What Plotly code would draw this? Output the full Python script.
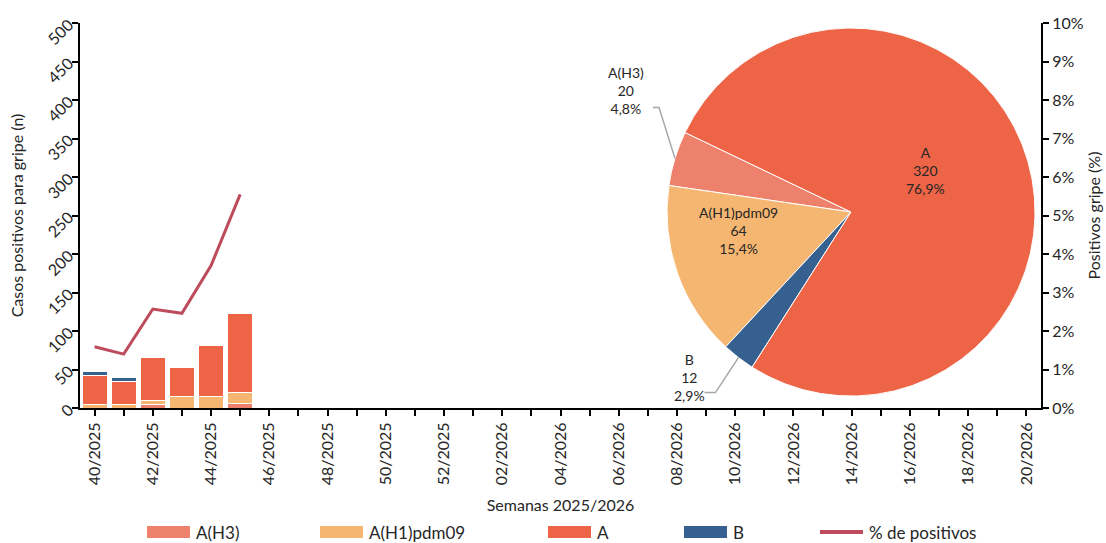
import math
import plotly.graph_objects as go

# semanas epidemiológicas 40/2025 - 20/2026
semanas = ["40/2025", "41/2025", "42/2025", "43/2025", "44/2025", "45/2025",
           "46/2025", "47/2025", "48/2025", "49/2025", "50/2025", "51/2025",
           "52/2025", "01/2026", "02/2026", "03/2026", "04/2026", "05/2026",
           "06/2026", "07/2026", "08/2026", "09/2026", "10/2026", "11/2026",
           "12/2026", "13/2026", "14/2026", "15/2026", "16/2026", "17/2026",
           "18/2026", "19/2026", "20/2026"]

semanas_datos = ["40/2025", "41/2025", "42/2025", "43/2025", "44/2025", "45/2025"]
a_h3 = [0, 0, 5, 0, 0, 6]
a_h1 = [5, 5, 5, 15, 15, 14]
a_ns = [37, 29, 55, 38, 66, 103]
b = [5, 6, 0, 1, 1, 0]
pct_pos = [1.59, 1.40, 2.57, 2.46, 3.70, 5.55]

# acumulado de la temporada (tarta)
pie_labels = ["A(H3)", "A(H1)pdm09", "B", "A"]
pie_values = [20, 64, 12, 320]

C_H3 = "#ED816C"
C_H1 = "#F5B671"
C_A = "#EE6446"
C_B = "#36608F"
C_LINE = "#BE4B5C"
FONT = "Lato"
TXT = "#262626"

W, H = 1106, 543
ML, MR, MT, MB = 80, 65, 23, 135
PW, PH = W - ML - MR, H - MT - MB

series = [("A(H3)", a_h3, C_H3), ("A(H1)pdm09", a_h1, C_H1),
          ("A", a_ns, C_A), ("B", b, C_B)]

fig = go.Figure()
for name, vals, col in series:
    fig.add_trace(go.Bar(x=semanas_datos, y=vals, name=name, showlegend=False,
                         marker=dict(color=col, line=dict(color="white", width=1))))

fig.add_trace(go.Scatter(x=semanas_datos, y=pct_pos, name="% de positivos",
                         mode="lines", yaxis="y2", showlegend=False,
                         line=dict(color=C_LINE, width=3)))

# tarta
pie_dom_x = [0.6108, 0.9938]
pie_dom_y = [0.031, 0.987]
start_deg = 154.4  # ángulo matemático donde empieza A(H3)
total = sum(pie_values)
# plotly (sentido antihorario) coloca el final del primer sector en "rotation"
rot = 90 - (start_deg + pie_values[0] / total * 360)
fig.add_trace(go.Pie(labels=pie_labels, values=pie_values, sort=False,
                     direction="counterclockwise", rotation=rot,
                     marker=dict(colors=[C_H3, C_H1, C_B, C_A],
                                 line=dict(color="white", width=1)),
                     textinfo="none",
                     domain=dict(x=pie_dom_x, y=pie_dom_y),
                     showlegend=False, hoverinfo="label+value+percent"))

cx = (pie_dom_x[0] + pie_dom_x[1]) / 2
cy = (pie_dom_y[0] + pie_dom_y[1]) / 2
r_px = min((pie_dom_x[1] - pie_dom_x[0]) * PW, (pie_dom_y[1] - pie_dom_y[0]) * PH) / 2


def to_paper(px, py):
    # px, py: píxeles relativos al centro de la tarta (y hacia abajo)
    return cx + px / PW, cy - py / PH


# etiquetas: las de dentro en posición fija respecto al centro,
# las de fuera con línea guía desde el borde del sector
inside_pos = {"A(H1)pdm09": (-113, 18), "A": (74, -42)}
outside_off = {"A(H3)": (-16, -51, -6, -33, -17), "B": (-23, 35, -11, -26, -15)}
cum = 0
shapes = []
annotations = []
for lab, v in zip(pie_labels, pie_values):
    mid = math.radians(start_deg + (cum + v / 2) / total * 360)
    cum += v
    pct = f"{v / total * 100:.1f}".replace(".", ",")
    txt = f"{lab}<br>{v}<br>{pct}%"
    if lab in inside_pos:
        x, y = to_paper(*inside_pos[lab])
    else:
        ex, ey = r_px * math.cos(mid), -r_px * math.sin(mid)
        dx, dy, hx, tx, ty = outside_off[lab]
        pts = [to_paper(ex, ey), to_paper(ex + dx, ey + dy), to_paper(ex + dx + hx, ey + dy)]
        path = "M" + " L".join(f"{px},{py}" for px, py in pts)
        shapes.append(dict(type="path", path=path, xref="paper", yref="paper",
                           line=dict(color="#A6A6A6", width=1.5)))
        x, y = to_paper(ex + dx + tx, ey + dy + ty)
    annotations.append(dict(text=txt, xref="paper", yref="paper", x=x, y=y,
                            showarrow=False, xanchor="center", yanchor="middle",
                            font=dict(size=14, color=TXT, family=FONT)))

# leyenda dibujada a mano (muestras rectangulares anchas)
leg_items = [(n, c, "bar") for n, _, c in series] + [("% de positivos", C_LINE, "line")]
leg_x = [147, 320, 548, 684, 820]
leg_y = 532
for (name, col, kind), lx in zip(leg_items, leg_x):
    x0, x1 = (lx - ML) / PW, (lx + 43 - ML) / PW
    if kind == "bar":
        y0, y1 = (H - MB - leg_y - 6) / PH, (H - MB - leg_y + 6) / PH
        shapes.append(dict(type="rect", xref="paper", yref="paper", x0=x0, x1=x1,
                           y0=y0, y1=y1, fillcolor=col, line=dict(width=0)))
    else:
        yy = (H - MB - leg_y) / PH
        shapes.append(dict(type="line", xref="paper", yref="paper", x0=x0, x1=x1,
                           y0=yy, y1=yy, line=dict(color=col, width=4)))
    annotations.append(dict(text=name, xref="paper", yref="paper",
                            x=(lx + 47 - ML) / PW, y=(H - MB - leg_y) / PH,
                            xanchor="left", yanchor="middle", showarrow=False,
                            font=dict(size=17, color=TXT, family=FONT)))

ticktext = [s if i % 2 == 0 else "" for i, s in enumerate(semanas)]

fig.update_layout(
    width=W, height=H,
    margin=dict(l=ML, r=MR, t=MT, b=MB),
    plot_bgcolor="white", paper_bgcolor="white",
    font=dict(family=FONT, size=16, color=TXT),
    separators=", ",
    barmode="stack", bargap=0.14,
    shapes=shapes, annotations=annotations,
    showlegend=False,
    xaxis=dict(type="category", categoryorder="array", categoryarray=semanas,
               range=[-0.5, len(semanas) - 0.5], automargin=False,
               tickmode="array", tickvals=semanas, ticktext=ticktext,
               tickangle=-90, ticks="outside", ticklen=6, tickwidth=1.5,
               tickcolor="black", showline=True, linecolor="black", linewidth=2,
               showgrid=False, tickfont=dict(size=16),
               title=dict(text="Semanas 2025/2026", standoff=15, font=dict(size=16))),
    yaxis=dict(range=[0, 500], dtick=50, tickangle=-45, ticks="outside",
               ticklen=6, tickwidth=1.5, tickcolor="black", showline=True,
               linecolor="black", linewidth=2, showgrid=False, zeroline=False,
               tickfont=dict(size=16), automargin=False,
               title=dict(text="Casos positivos para gripe (n)", standoff=16,
                          font=dict(size=16))),
    yaxis2=dict(range=[0, 10], dtick=1, ticksuffix="%", overlaying="y", side="right",
                ticks="outside", ticklen=6, tickwidth=1.5, tickcolor="black",
                showline=True, linecolor="black", linewidth=2, showgrid=False,
                zeroline=False, tickfont=dict(size=16), automargin=False,
                title=dict(text="Positivos gripe (%)", standoff=6, font=dict(size=16))),
)

# sin margen del body para que la figura ocupe exactamente la ventana
fig.write_html("out.html", config={"displayModeBar": False},
               post_script="document.body.style.margin='0';")
